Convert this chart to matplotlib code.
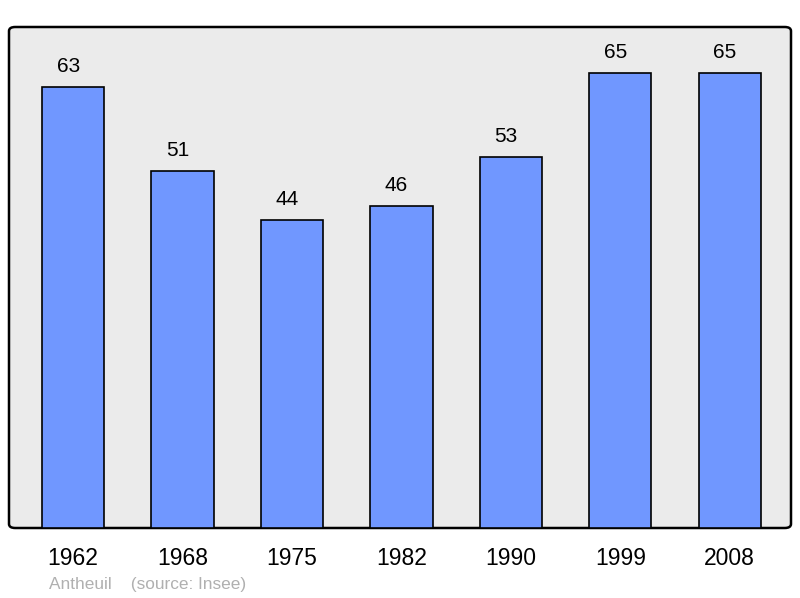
import matplotlib
matplotlib.use("Agg")
import matplotlib.pyplot as plt
from matplotlib.patches import FancyBboxPatch

years = ["1962", "1968", "1975", "1982", "1990", "1999", "2008"]
population = [63, 51, 44, 46, 53, 65, 65]

plt.rcParams['font.family'] = ['Liberation Sans', 'DejaVu Sans']

fig = plt.figure(figsize=(8, 5.98), dpi=100)
ax = fig.add_axes([9/800, 70/598, 782/800, 501/598])
ax.set_facecolor('none')
ax.patch.set_visible(False)

bg = FancyBboxPatch((0, 0), 1, 1, boxstyle="round,pad=0,rounding_size=0.008",
                    transform=ax.transAxes, facecolor='#ebebeb', edgecolor='black',
                    linewidth=1.8, zorder=0, clip_on=False)
ax.add_patch(bg)

x = list(range(len(years)))
bars = ax.bar(x, population, width=0.57, color='#7097ff', edgecolor='black',
              linewidth=1.2, zorder=2)
for xi, v in zip(x, population):
    ax.annotate(str(v), (xi, v), xytext=(-3.5, 8), textcoords='offset points',
                ha='center', va='bottom', fontsize=15, color='black')

ax.set_xlim(-0.585, 6.56)
ax.set_ylim(0, 71.6)
for s in ax.spines.values():
    s.set_visible(False)
ax.set_yticks([])
ax.set_xticks(x)
ax.set_xticklabels(years, fontsize=16.5)
ax.tick_params(axis='x', length=0, pad=14)

fig.text(49/800, 1 - 584/598, "Antheuil    (source: Insee)", fontsize=12.4,
         color='#b0b0b0', ha='left', va='center')

fig.savefig('out.png', dpi=100)
